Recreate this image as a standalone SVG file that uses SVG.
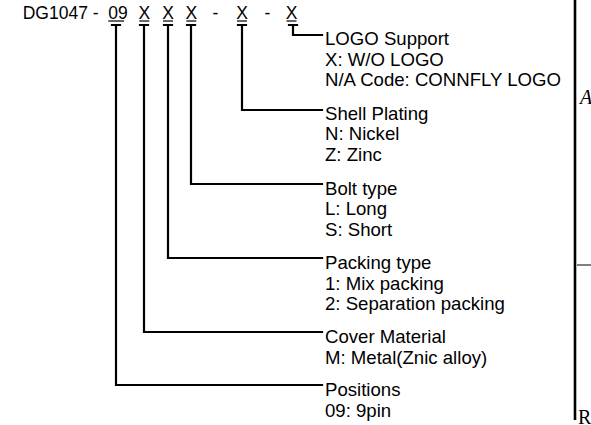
<svg xmlns="http://www.w3.org/2000/svg" width="591" height="425" viewBox="0 0 591 425">
<style>
.t{font-family:"Liberation Sans",Arial,sans-serif;font-size:17.5px;fill:#000}
.l{font-family:"Liberation Sans",Arial,sans-serif;font-size:18.6px;fill:#000}
.c{fill:none;stroke:#000;stroke-width:2.2;stroke-linecap:square}
.u{stroke:#000;stroke-width:1.2}
.s{font-family:"Liberation Serif","Times New Roman",serif;font-size:20px;fill:#000}
</style>
<rect width="591" height="425" fill="#fff"/>
<g id="title">
<text class="t" x="22.7" y="19">DG1047 -</text>
<text class="t" x="108.3" y="19">09</text>
<text class="t" x="144.3" y="19" text-anchor="middle">X</text>
<text class="t" x="168" y="19" text-anchor="middle">X</text>
<text class="t" x="191.3" y="19" text-anchor="middle">X</text>
<text class="t" x="215.5" y="19" text-anchor="middle">-</text>
<text class="t" x="242" y="19" text-anchor="middle">X</text>
<text class="t" x="267.5" y="19" text-anchor="middle">-</text>
<text class="t" x="291.5" y="19" text-anchor="middle">X</text>
<line class="u" x1="108.3" y1="21" x2="124" y2="21"/>
<line class="u" x1="139.3" y1="21" x2="149.3" y2="21"/>
<line class="u" x1="163" y1="21" x2="173" y2="21"/>
<line class="u" x1="186.3" y1="21" x2="196.3" y2="21"/>
<line class="u" x1="237" y1="21" x2="247" y2="21"/>
<line class="u" x1="286.5" y1="21" x2="296.5" y2="21"/>
</g>
<g id="connectors">
<path class="c" d="M112 25H120M116 25V385H322"/>
<path class="c" d="M140 25H148M144 25V332H322"/>
<path class="c" d="M164 25H172M168 25V258H322"/>
<path class="c" d="M187 25H195M191 25V184H322"/>
<path class="c" d="M238 25H246M242 25V110H322"/>
<path class="c" d="M289 25H297M293 25V35H322"/>
</g>
<g id="logo">
<text class="l" x="325" y="45">LOGO Support</text>
<text class="l" x="325" y="65.7">X: W/O LOGO</text>
<text class="l" x="325" y="86.4">N/A Code: CONNFLY LOGO</text>
</g>
<g id="shell">
<text class="l" x="325" y="119.5">Shell Plating</text>
<text class="l" x="325" y="140.2">N: Nickel</text>
<text class="l" x="325" y="160.9">Z: Zinc</text>
</g>
<g id="bolt">
<text class="l" x="325" y="194.5">Bolt type</text>
<text class="l" x="325" y="215.2">L: Long</text>
<text class="l" x="325" y="235.9">S: Short</text>
</g>
<g id="packing">
<text class="l" x="325" y="269">Packing type</text>
<text class="l" x="325" y="289.7">1: Mix packing</text>
<text class="l" x="325" y="310.4">2: Separation packing</text>
</g>
<g id="cover">
<text class="l" x="325" y="343.3">Cover Material</text>
<text class="l" x="325" y="364">M: Metal(Znic alloy)</text>
</g>
<g id="positions">
<text class="l" x="325" y="396">Positions</text>
<text class="l" x="325" y="416.7">09: 9pin</text>
</g>
<g id="edge">
<line x1="575" y1="0" x2="575" y2="420" stroke="#000" stroke-width="2.6"/>
<line x1="577" y1="265" x2="591" y2="265" stroke="#000" stroke-width="1"/>
<text class="s" x="580" y="104" font-style="italic">A</text>
<text class="s" x="578" y="424">R</text>
</g>
</svg>
